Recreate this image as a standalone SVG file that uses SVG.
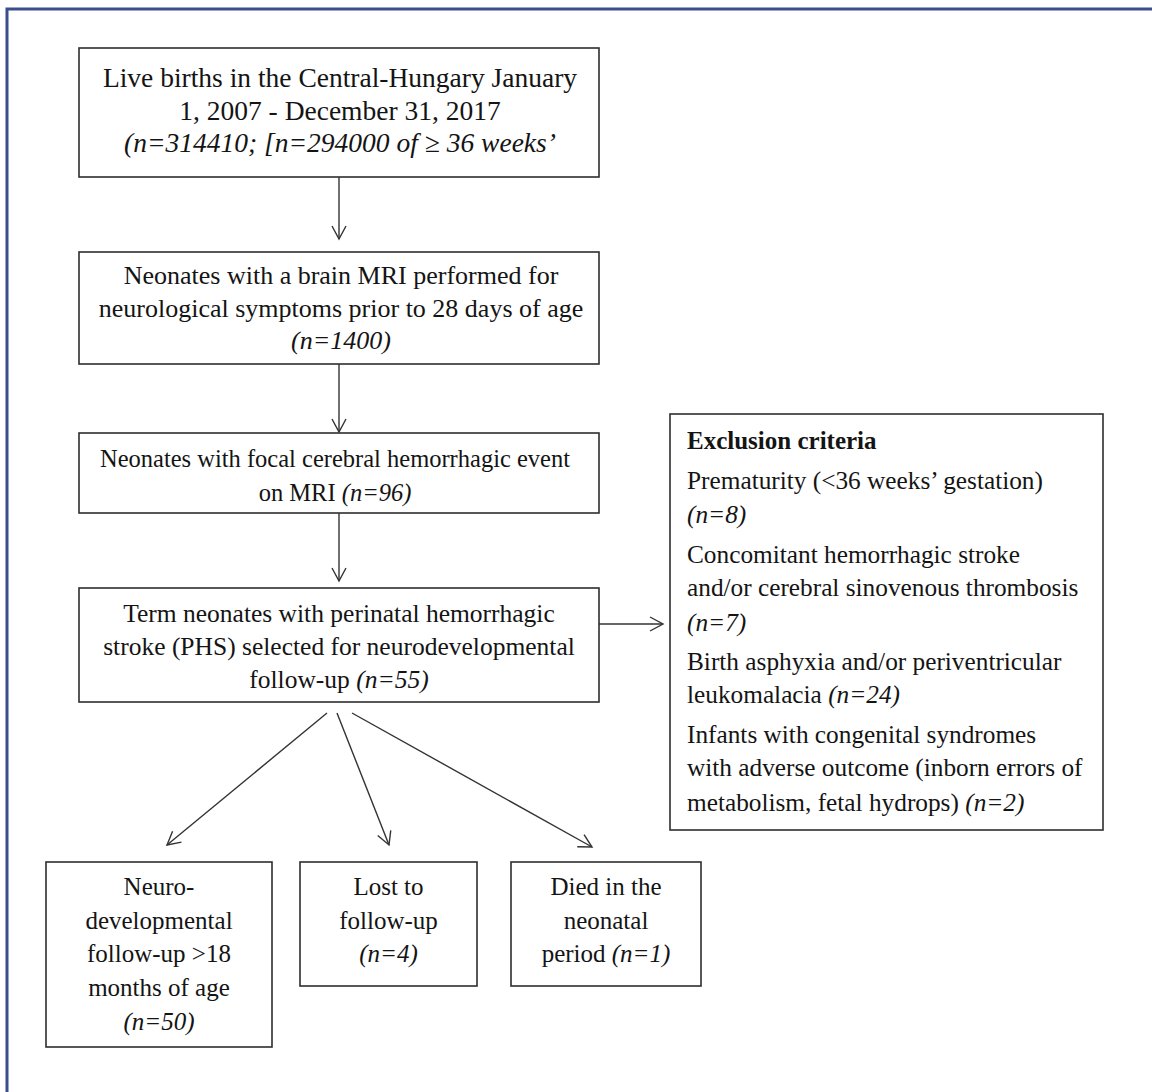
<svg xmlns="http://www.w3.org/2000/svg" width="1152" height="1092" viewBox="0 0 1152 1092">
<defs>
<style>
.bx{fill:#ffffff;stroke:#2e2e2e;stroke-width:1.6}
.t{font-family:"Liberation Serif","Times New Roman",serif;fill:#141414;font-size:25.5px}
.c{text-anchor:middle}
.i{font-style:italic}
.b{font-weight:bold}
.ln{stroke:#333333;stroke-width:1.4;fill:none}
</style>
<marker id="ah" viewBox="-15 -9 17 18" refX="0" refY="0" markerWidth="17" markerHeight="18" markerUnits="userSpaceOnUse" orient="auto">
<path d="M -13 -7 L 0 0 L -13 7" fill="none" stroke="#333333" stroke-width="1.4"/>
</marker>
</defs>
<rect x="0" y="0" width="1152" height="1092" fill="#ffffff"/>
<path d="M 7 1092 L 7 9 L 1152 9" fill="none" stroke="#3a4d8c" stroke-width="3"/>

<g id="connectors">
<line class="ln" x1="339" y1="177" x2="339" y2="239" marker-end="url(#ah)"/>
<line class="ln" x1="339" y1="364" x2="339" y2="432" marker-end="url(#ah)"/>
<line class="ln" x1="339" y1="513" x2="339" y2="581" marker-end="url(#ah)"/>
<line class="ln" x1="599" y1="624" x2="663" y2="624" marker-end="url(#ah)"/>
<line class="ln" x1="327" y1="713" x2="167" y2="845" marker-end="url(#ah)"/>
<line class="ln" x1="337" y1="713" x2="389" y2="845" marker-end="url(#ah)"/>
<line class="ln" x1="352" y1="713" x2="592" y2="847" marker-end="url(#ah)"/>
</g>

<g id="live-births">
<rect class="bx" x="79" y="48" width="520" height="129"/>
<text class="t c" x="340" y="87" style="font-size:27.5px">Live births in the Central-Hungary January</text>
<text class="t c" x="340" y="120" style="font-size:27.5px">1, 2007 - December 31, 2017</text>
<text class="t c i" x="340" y="152" style="font-size:27.5px">(n=314410; [n=294000 of ≥ 36 weeks’</text>
</g>

<g id="mri">
<rect class="bx" x="79" y="252" width="520" height="112"/>
<text class="t c" x="341" y="284" style="font-size:26px">Neonates with a brain MRI performed for</text>
<text class="t c" x="341" y="317" style="font-size:26px">neurological symptoms prior to 28 days of age</text>
<text class="t c i" x="341" y="349" style="font-size:26px">(n=1400)</text>
</g>

<g id="focal">
<rect class="bx" x="79" y="433" width="520" height="80"/>
<text class="t c" x="335" y="467" style="font-size:24.5px">Neonates with focal cerebral hemorrhagic event</text>
<text class="t c" x="335" y="501" style="font-size:24.5px">on MRI <tspan class="i">(n=96)</tspan></text>
</g>

<g id="phs">
<rect class="bx" x="79" y="588" width="520" height="114"/>
<text class="t c" x="339" y="622">Term neonates with perinatal hemorrhagic</text>
<text class="t c" x="339" y="655">stroke (PHS) selected for neurodevelopmental</text>
<text class="t c" x="339" y="688">follow-up <tspan class="i">(n=55)</tspan></text>
</g>

<g id="exclusion">
<rect class="bx" x="670" y="414" width="433" height="416"/>
<text class="t b" x="687" y="449" style="font-size:25px">Exclusion criteria</text>
<text class="t" x="687" y="489" style="font-size:25.3px">Prematurity (&lt;36 weeks’ gestation)</text>
<text class="t i" x="687" y="523" style="font-size:25.3px">(n=8)</text>
<text class="t" x="687" y="563" style="font-size:25.3px">Concomitant hemorrhagic stroke</text>
<text class="t" x="687" y="596" style="font-size:25.3px">and/or cerebral sinovenous thrombosis</text>
<text class="t i" x="687" y="631" style="font-size:25.3px">(n=7)</text>
<text class="t" x="687" y="670" style="font-size:25.3px">Birth asphyxia and/or periventricular</text>
<text class="t" x="687" y="703" style="font-size:25.3px">leukomalacia <tspan class="i">(n=24)</tspan></text>
<text class="t" x="687" y="743" style="font-size:25.3px">Infants with congenital syndromes</text>
<text class="t" x="687" y="776" style="font-size:25.3px">with adverse outcome (inborn errors of</text>
<text class="t" x="687" y="811" style="font-size:25.3px">metabolism, fetal hydrops) <tspan class="i">(n=2)</tspan></text>
</g>

<g id="followup">
<rect class="bx" x="46" y="862" width="226" height="185"/>
<text class="t c" x="159" y="895" style="font-size:25px">Neuro-</text>
<text class="t c" x="159" y="929" style="font-size:25px">developmental</text>
<text class="t c" x="159" y="962" style="font-size:25px">follow-up &gt;18</text>
<text class="t c" x="159" y="996" style="font-size:25px">months of age</text>
<text class="t c i" x="159" y="1030" style="font-size:25px">(n=50)</text>
</g>

<g id="lost">
<rect class="bx" x="300" y="862" width="177" height="124"/>
<text class="t c" x="388.5" y="895" style="font-size:25px">Lost to</text>
<text class="t c" x="388.5" y="929" style="font-size:25px">follow-up</text>
<text class="t c i" x="388.5" y="962" style="font-size:25px">(n=4)</text>
</g>

<g id="died">
<rect class="bx" x="511" y="862" width="190" height="124"/>
<text class="t c" x="606" y="895" style="font-size:25px">Died in the</text>
<text class="t c" x="606" y="929" style="font-size:25px">neonatal</text>
<text class="t c" x="606" y="962" style="font-size:25px">period <tspan class="i">(n=1)</tspan></text>
</g>
</svg>
